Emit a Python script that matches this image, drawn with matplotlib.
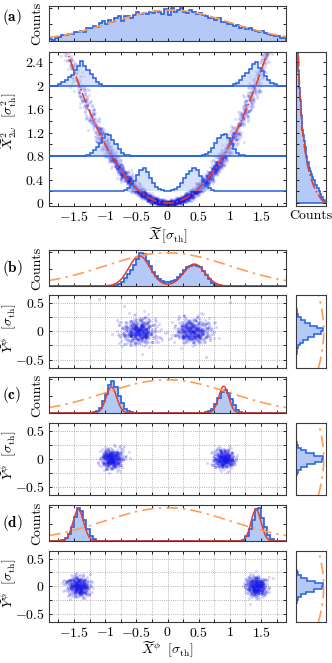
import numpy as np
import matplotlib
matplotlib.use("Agg")
import matplotlib.pyplot as plt
from matplotlib.ticker import MultipleLocator, FuncFormatter, NullFormatter

plt.rcParams.update({
    "font.family": "serif", "font.serif": ["cmr10"], "mathtext.fontset": "cm",
    "axes.formatter.use_mathtext": True, "font.size": 10,
    "axes.linewidth": 0.8, "axes.edgecolor": "#3a3a3a",
    "xtick.direction": "in", "ytick.direction": "in",
    "xtick.top": True, "ytick.right": True,
    "xtick.major.size": 2.5, "ytick.major.size": 2.5,
    "xtick.minor.size": 2.5, "ytick.minor.size": 2.5,
    "xtick.major.width": 0.6, "ytick.major.width": 0.6,
    "xtick.minor.width": 0.6, "ytick.minor.width": 0.6,
    "xtick.major.pad": 3, "ytick.major.pad": 3,
})

BLUE = "#2560e0"
FILL = "#b4c9f6"
DOT = "#1a1ae6"
RED = "#e2402c"
ORANGE = "#ff9c55"

# ---- data (histograms normalised to panel height) ----
XMIN, XMAX, BW = -1.9, 1.9, 0.05

# (a) top: counts of X, bins of 0.05 starting at -1.9
hist_a_top = [0.06, 0.04, 0.10, 0.12, 0.18, 0.17, 0.20, 0.20, 0.27, 0.26,
              0.30, 0.27, 0.38, 0.40, 0.44, 0.41, 0.55, 0.60, 0.52, 0.63,
              0.58, 0.70, 0.74, 0.60, 0.76, 0.74, 0.70, 0.78, 0.86, 0.82,
              0.84, 0.80, 0.88, 0.84, 0.90, 0.88, 0.82, 0.96, 0.78, 1.00,
              0.86, 0.92, 1.00, 0.88, 0.84, 0.92, 0.86, 0.82, 0.84, 0.78,
              0.76, 0.68, 0.70, 0.64, 0.70, 0.58, 0.56, 0.50, 0.52, 0.46,
              0.48, 0.40, 0.42, 0.36, 0.38, 0.32, 0.30, 0.28, 0.30, 0.24,
              0.22, 0.18, 0.16, 0.14, 0.10, 0.08]

# (a) right: counts of X^2, bins of 0.05 starting at 0
hist_a_right = [1.00, 0.95, 0.88, 0.84, 0.80, 0.74, 0.66, 0.66, 0.58, 0.55,
                0.54, 0.48, 0.46, 0.44, 0.40, 0.39, 0.36, 0.34, 0.35, 0.30,
                0.30, 0.27, 0.28, 0.25, 0.25, 0.22, 0.22, 0.21, 0.20, 0.21,
                0.18, 0.18, 0.17, 0.16, 0.17, 0.15, 0.14, 0.14, 0.13, 0.12,
                0.12, 0.11, 0.10, 0.10, 0.09, 0.08, 0.08, 0.07, 0.07, 0.06,
                0.06, 0.05]

# (a) slice histograms drawn on top of the scatter: (baseline, start, values)
slices_a = [
    (2.0, -1.75, [0.02, 0.06, 0.10, 0.14, 0.18, 0.26, 0.33, 0.42, 0.34, 0.26,
                  0.20, 0.12, 0.06, 0.02]),
    (2.0, 1.05, [0.02, 0.05, 0.10, 0.16, 0.22, 0.28, 0.36, 0.40, 0.30, 0.24,
                 0.16, 0.10, 0.05, 0.02]),
    (0.8, -1.30, [0.02, 0.05, 0.10, 0.16, 0.22, 0.30, 0.37, 0.35, 0.28, 0.20,
                  0.12, 0.06, 0.02, 0.01]),
    (0.8, 0.55, [0.01, 0.03, 0.07, 0.14, 0.22, 0.30, 0.36, 0.38, 0.30, 0.20,
                 0.12, 0.06, 0.02, 0.01]),
    (0.2, -0.75, [0.01, 0.03, 0.06, 0.11, 0.18, 0.27, 0.36, 0.40, 0.32, 0.22,
                  0.14, 0.08, 0.04, 0.02, 0.01, 0.01, 0.02, 0.04, 0.08, 0.14,
                  0.22, 0.30, 0.34, 0.40, 0.36, 0.26, 0.16, 0.09, 0.05, 0.02,
                  0.01]),
]

# (b)-(d) top: counts of X^phi, (start, values)
hist_top = {
    "b": [(-0.90, [0.0, 0.02, 0.06, 0.12, 0.22, 0.34, 0.48, 0.62, 0.78, 0.97,
                   0.92, 0.72, 0.58, 0.42, 0.28, 0.20, 0.14, 0.12, 0.11, 0.14,
                   0.18, 0.26, 0.36, 0.46, 0.54, 0.58, 0.60, 0.58, 0.54, 0.44,
                   0.32, 0.20, 0.10, 0.04, 0.02, 0.0])],
    "c": [(-1.25, [0.0, 0.02, 0.06, 0.15, 0.35, 0.55, 0.82, 0.92, 0.75, 0.50,
                   0.28, 0.12, 0.05, 0.02]),
          (0.55, [0.0, 0.02, 0.05, 0.12, 0.25, 0.45, 0.60, 0.66, 0.58, 0.40,
                  0.22, 0.10, 0.04, 0.01])],
    "d": [(-1.70, [0.02, 0.08, 0.20, 0.42, 0.70, 0.95, 0.88, 0.60, 0.35, 0.15,
                   0.05, 0.01]),
          (1.15, [0.01, 0.04, 0.14, 0.35, 0.62, 0.92, 0.95, 0.66, 0.40, 0.18,
                  0.06, 0.01])],
}
# fitted double peaks (amplitude, centre, width)
fit_top = {
    "b": [(0.88, -0.45, 0.17), (0.64, 0.43, 0.17)],
    "c": [(0.76, -0.90, 0.085), (0.78, 0.90, 0.08)],
    "d": [(0.92, -1.43, 0.085), (0.92, 1.42, 0.08)],
}

# (b)-(d) right: counts of Y^phi, bins of 0.05 starting at -0.4
hist_right = {
    "b": [0.02, 0.04, 0.08, 0.15, 0.26, 0.42, 0.62, 0.86, 0.95, 0.72, 0.48,
          0.30, 0.16, 0.08, 0.04, 0.02],
    "c": [0.0, 0.01, 0.03, 0.08, 0.18, 0.38, 0.66, 0.92, 0.95, 0.62, 0.36,
          0.16, 0.07, 0.03, 0.01, 0.0],
    "d": [0.0, 0.01, 0.03, 0.07, 0.17, 0.36, 0.64, 0.90, 0.96, 0.66, 0.38,
          0.17, 0.07, 0.03, 0.01, 0.0],
}

# scatter clouds: (x centre, y centre, x spread, y spread, n points)
clouds = {
    "b": [(-0.46, 0.0, 0.14, 0.11, 520), (0.40, 0.0, 0.14, 0.11, 480)],
    "c": [(-0.90, 0.0, 0.085, 0.09, 450), (0.90, 0.0, 0.085, 0.09, 420)],
    "d": [(-1.43, 0.0, 0.09, 0.09, 450), (1.42, 0.0, 0.085, 0.09, 450)],
}
outliers_b = ([-1.1, -0.7, 1.0, 0.62], [0.57, 0.45, 0.52, -0.45])

# parabola cloud in (a): X spread, noise in x and y, n points
A_SIGMA, A_NX, A_NY, A_N = 0.95, 0.05, 0.025, 3000
ORANGE_SIGMA = 1.0     # thermal envelope
TOP_ENV = (0.93, 0.05, 0.94)

rng = np.random.default_rng(3)
NB = int(round((XMAX - XMIN) / BW))
edges = XMIN + BW * np.arange(NB + 1)


def padded(start, vals):
    full = np.zeros(NB)
    i0 = int(round((start - XMIN) / BW))
    full[i0:i0 + len(vals)] = vals
    return full


def fmt(v, _):
    return f"${v:g}$"


W, H = 332, 663
fig = plt.figure(figsize=(W / 100, H / 100), dpi=100)


def box(x0, y0, x1, y1):
    return fig.add_axes([x0 / W, 1 - y1 / H, (x1 - x0) / W, (y1 - y0) / H])


def xgrid_ticks(ax, labels):
    ax.set_xlim(XMIN, XMAX)
    ax.xaxis.set_major_locator(MultipleLocator(0.5))
    ax.xaxis.set_minor_locator(MultipleLocator(0.25))
    if labels:
        ax.xaxis.set_major_formatter(FuncFormatter(fmt))
    else:
        ax.xaxis.set_major_formatter(NullFormatter())


def counts_label(ax):
    ax.set_ylabel("Counts")
    ax.yaxis.set_label_coords(-0.025, 0.5)


xs = np.linspace(XMIN, XMAX, 400)

# ---------------- (a) ----------------
ax = box(49, 6, 286, 41)
ax.stairs(hist_a_top, edges, fill=True, color=FILL, lw=0)
ax.stairs(hist_a_top, edges, color=BLUE, lw=1.2)
amp, mu, sg = TOP_ENV
ax.plot(xs, amp * np.exp(-(xs - mu) ** 2 / (2 * sg ** 2)), color=ORANGE,
        lw=1.2, ls=(0, (6, 3)))
xgrid_ticks(ax, False)
ax.set_ylim(0, 1.05)
ax.set_yticks([0.5, 1.0])
ax.yaxis.set_major_formatter(NullFormatter())
counts_label(ax)

ax = box(49, 52, 286, 206)
X = rng.normal(0.05, A_SIGMA, A_N)
px = X + rng.normal(0, A_NX, A_N)
py = X ** 2 + rng.normal(0, A_NY, A_N)
ax.scatter(px, py, s=5, color=DOT, alpha=0.15, lw=0, zorder=1)
for base, start, vals in slices_a:
    v = padded(start, vals) + base
    ax.stairs(v, edges, baseline=base, fill=True, color=FILL, alpha=0.55,
              lw=0, zorder=2)
    ax.stairs(v, edges, baseline=None, color=BLUE, lw=1.1, zorder=3)
xp = np.linspace(-1.65, 1.65, 300)
ax.plot(xp, xp ** 2, color=RED, lw=1.2, ls="-.", zorder=4)
xgrid_ticks(ax, True)
ax.set_ylim(-0.05, 2.57)
ax.yaxis.set_major_locator(MultipleLocator(0.4))
ax.yaxis.set_minor_locator(MultipleLocator(0.2))
ax.yaxis.set_major_formatter(FuncFormatter(fmt))
ax.set_xlabel(r"$\widetilde{X}\,[\sigma_{\rm th}]$", labelpad=1)
ax.set_ylabel(r"$\widetilde{X}^2_{2\omega}\ \ [\sigma^2_{\rm th}]$")
ax.yaxis.set_label_coords(-0.125, 0.55)

ax = box(296, 52, 326, 206)
redges = 0.05 * np.arange(len(hist_a_right) + 1)
ax.stairs(hist_a_right, redges, orientation="horizontal", fill=True,
          color=FILL, lw=0)
ax.stairs(hist_a_right, redges, orientation="horizontal", color=BLUE, lw=1.1)
yy = np.linspace(0, 2.6, 200)
ax.plot(0.611 / np.sqrt(yy + 0.325) * np.exp(-yy / 1.77) * 0.94, yy,
        color=RED, lw=1.2, ls="-.")
ax.set_xlim(0, 1.05)
ax.set_ylim(-0.05, 2.57)
ax.set_xticks([])
ax.yaxis.set_major_locator(MultipleLocator(0.2))
ax.yaxis.set_major_formatter(NullFormatter())
ax.set_xlabel("Counts", labelpad=3)

fig.text(0.006, 0.975, r"$\mathbf{(a)}$", fontsize=11, va="center")

# ---------------- (b)-(d) ----------------
rows = {"b": ((250, 286), (295, 368)),
        "c": ((377, 413), (423, 495)),
        "d": ((505, 541), (551, 622))}
yb = np.linspace(-0.65, 0.65, 200)
for key, ((t0, t1), (s0, s1)) in rows.items():
    ax = box(49, t0, 286, t1)
    v = np.zeros(NB)
    for start, vals in hist_top[key]:
        v += padded(start, vals)
    ax.stairs(v, edges, fill=True, color=FILL, lw=0)
    ax.stairs(v, edges, color=BLUE, lw=1.2)
    fit = sum(a * np.exp(-(xs - m) ** 2 / (2 * s ** 2)) for a, m, s in fit_top[key])
    ax.plot(xs, fit, color=RED, lw=1.1)
    ax.plot(xs, 0.97 * np.exp(-xs ** 2 / (2 * ORANGE_SIGMA ** 2)), color=ORANGE,
            lw=1.2, ls=(0, (7, 3, 1.5, 3)))
    xgrid_ticks(ax, False)
    ax.set_ylim(0, 1.05)
    ax.set_yticks([0.5, 1.0])
    ax.yaxis.set_major_formatter(NullFormatter())
    counts_label(ax)

    ax = box(49, s0, 286, s1)
    for cx, cy, sx, sy, n in clouds[key]:
        ax.scatter(rng.normal(cx, sx, n), rng.normal(cy, sy, n), s=5,
                   color=DOT, alpha=0.17, lw=0)
    if key == "b":
        ax.scatter(*outliers_b, s=5, color=DOT, alpha=0.2, lw=0)
    xgrid_ticks(ax, key == "d")
    ax.set_ylim(-0.65, 0.64)
    ax.yaxis.set_major_locator(MultipleLocator(0.5))
    ax.yaxis.set_minor_locator(MultipleLocator(0.25))
    ax.yaxis.set_major_formatter(FuncFormatter(fmt))
    ax.grid(True, which="both", ls=":", lw=0.6, color="#9a9a9a")
    ax.set_axisbelow(True)
    ax.set_ylabel(r"$\widetilde{Y}^{\phi}\ \ [\sigma_{\rm th}]$")
    ax.yaxis.set_label_coords(-0.125, 0.55)
    if key == "d":
        ax.set_xlabel(r"$\widetilde{X}^{\phi}\ \ [\sigma_{\rm th}]$", labelpad=0)

    ax = box(296, s0, 326, s1)
    hedges = -0.4 + 0.05 * np.arange(len(hist_right[key]) + 1)
    ax.stairs(hist_right[key], hedges, orientation="horizontal", fill=True,
              color=FILL, lw=0)
    ax.stairs(hist_right[key], hedges, orientation="horizontal", color=BLUE,
              lw=1.1)
    ax.plot(0.97 * np.exp(-yb ** 2 / (2 * ORANGE_SIGMA ** 2)), yb, color=ORANGE,
            lw=1.2, ls=(0, (7, 3, 1.5, 3)))
    ax.set_xlim(0, 1.05)
    ax.set_ylim(-0.65, 0.64)
    ax.set_xticks([])
    ax.set_yticks([])

    ymid = 1 - (t0 + t1) / 2 / H
    fig.text(0.006, ymid, r"$\mathbf{(%s)}$" % key, fontsize=11, va="center")

fig.savefig("out.png", dpi=100)
